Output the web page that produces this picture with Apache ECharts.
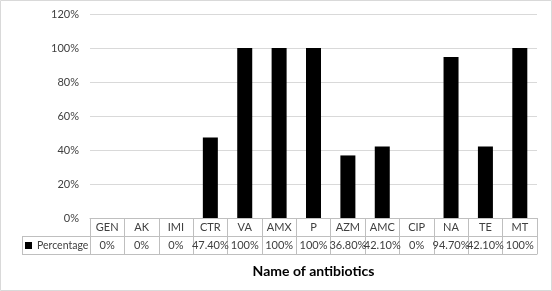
<!DOCTYPE html>
<html>
<head>
<meta charset="utf-8">
<script src="https://cdn.jsdelivr.net/npm/echarts@6/dist/echarts.min.js"></script>
<style>
  html, body { margin: 0; padding: 0; background: #fff; }
  #chart { width: 552px; height: 291px; }
</style>
</head>
<body>
<div id="chart"></div>
<script>
var categories = ['GEN', 'AK', 'IMI', 'CTR', 'VA', 'AMX', 'P', 'AZM', 'AMC', 'CIP', 'NA', 'TE', 'MT'];
var percentage = [0, 0, 0, 47.4, 100, 100, 100, 36.8, 42.1, 0, 94.7, 42.1, 100];
var yTicks = [0, 20, 40, 60, 80, 100, 120];

function fmt(v) {
    if (v === 0 || v === 100) return v + '%';
    return v.toFixed(2) + '%';
}

var font = 'Lato, "Open Sans", sans-serif';
var lineColor = '#bfbfbf';

var myChart = echarts.init(document.getElementById('chart'));
var option = {
    animation: false,
    textStyle: { fontFamily: font },
    grid: { left: 90, right: 15, top: 14, bottom: 73 },
    legend: {
        data: ['Percentage'],
        left: 20, top: 240, padding: [0, 0, 0, 5],
        icon: 'rect', itemWidth: 7, itemHeight: 7, itemGap: 3,
        textStyle: { fontSize: 10.5, color: '#404040', fontFamily: font }
    },
    xAxis: [{
        type: 'category',
        position: 'bottom',
        data: categories,
        axisLine: { lineStyle: { color: lineColor } },
        axisTick: { show: true, length: 36, interval: 0, lineStyle: { color: lineColor } },
        axisLabel: { margin: 4, interval: 0, fontSize: 11, color: '#404040' }
    }, {
        type: 'category',
        position: 'bottom',
        data: categories,
        offset: 18,
        axisLine: { lineStyle: { color: lineColor } },
        axisTick: { show: false },
        axisLabel: {
            margin: 4, interval: 0, fontSize: 11, color: '#404040',
            formatter: function (val, idx) { return fmt(percentage[idx]); }
        }
    }, {
        type: 'category',
        position: 'bottom',
        data: categories,
        offset: 36,
        axisLine: { lineStyle: { color: lineColor } },
        axisTick: { show: false },
        axisLabel: { show: false },
        name: 'Name of antibiotics',
        nameLocation: 'middle',
        nameGap: 10,
        nameTextStyle: { fontSize: 14, fontWeight: 'bold', color: '#000', fontFamily: font }
    }],
    yAxis: {
        type: 'value',
        min: 0, max: yTicks[yTicks.length - 1], interval: 20,
        axisLine: { show: false },
        axisTick: { show: false },
        axisLabel: { margin: 11, fontSize: 11, color: '#404040', formatter: '{value}%' },
        splitLine: { lineStyle: { color: '#d9d9d9' } }
    },
    graphic: [
        { type: 'rect', shape: { x: 0.5, y: 0.5, width: 551, height: 290 }, style: { fill: 'none', stroke: '#d9d9d9', lineWidth: 1 } },
        { type: 'line', shape: { x1: 22, y1: 236.5, x2: 90, y2: 236.5 }, style: { stroke: lineColor } },
        { type: 'line', shape: { x1: 22, y1: 254.5, x2: 90, y2: 254.5 }, style: { stroke: lineColor } },
        { type: 'line', shape: { x1: 22.5, y1: 236.5, x2: 22.5, y2: 254.5 }, style: { stroke: lineColor } }
    ],
    series: [{
        name: 'Percentage',
        type: 'bar',
        data: percentage,
        barWidth: 15,
        itemStyle: { color: '#000' }
    }]
};
myChart.setOption(option);
</script>
</body>
</html>
